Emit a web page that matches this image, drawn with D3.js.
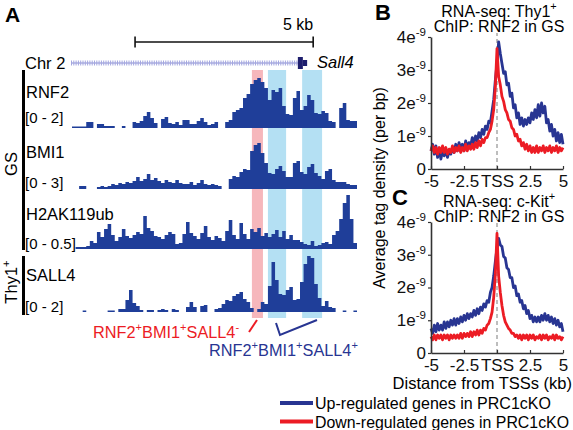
<!DOCTYPE html>
<html><head><meta charset="utf-8">
<script src="https://cdn.jsdelivr.net/npm/d3@7"></script>
<style>body{margin:0;background:#fff}</style>
</head><body><svg id="c" width="573" height="430"></svg>
<script>
// ---------------- DATA ----------------
const binKb = 0.1;
const rnf2 = [0.06,0.06,0.06,0.06,0.24,0.24,null,0.16,0.16,0.08,0.08,0.08,null,null,0.08,null,null,0.24,0.2,0.28,
  0.48,0.64,0.4,0.2,null,0.36,0.44,0.2,0.16,0.24,0.12,0.32,0.32,0.16,0.16,0.28,0.4,0.24,0.12,0.16,
  0.24,null,null,0.24,0.32,0.64,0.72,0.8,1.2,1.36,1.76,1.92,2.0,1.84,1.6,1.12,1.52,1.44,1.6,0.88,
  0.56,0.52,1.2,1.48,0.72,0.88,1.32,1.12,0.6,0.56,0.68,0.6,0.28,0.24,null,0.8,1.0,0.32,0.28,0.28];
const bmi1 = [null,null,0.18,0.18,null,null,null,0.12,0.18,0.12,0.18,0.3,0.24,0.36,0.3,0.42,0.36,0.48,0.72,0.48,
  0.6,0.9,0.54,0.66,0.48,0.36,0.54,0.42,0.36,0.54,0.36,0.3,0.3,0.42,0.24,0.36,0.54,0.3,0.24,0.3,
  0.24,0.18,null,null,0.6,0.78,0.72,1.02,1.2,1.14,2.28,2.64,2.76,2.16,1.56,0.96,0.9,1.2,1.38,1.08,
  0.72,0.72,1.56,1.68,1.02,0.9,1.32,1.5,0.96,0.78,0.6,1.08,1.2,0.54,0.42,0.42,0.42,0.3,0.24,0.24];
const h2ak119ub = [null,0.02,0.02,0.02,0.03,0.08,0.06,0.17,0.12,0.2,0.25,0.14,0.08,0.12,0.2,0.13,0.11,0.14,0.17,0.15,
  0.33,0.21,0.18,0.13,0.12,0.1,0.14,0.17,0.15,0.05,0.06,0.15,0.27,0.16,0.13,0.1,0.16,0.23,0.12,0.09,
  0.13,0.11,0.08,0.18,0.29,0.14,0.1,0.26,0.15,0.1,0.2,0.17,0.21,0.13,0.16,0.12,0.15,0.19,0.12,0.18,
  0.1,0.14,0.09,0.09,0.07,0.05,0.04,0.08,0.03,0.04,0.06,0.07,0.05,0.14,0.18,0.3,0.46,0.54,0.3,0.06];
const sall4 = [null,null,null,0.06,null,null,null,null,null,null,0.06,0.06,null,0.12,0.12,0.48,0.88,0.36,0.24,0.08,
  null,0.08,0.08,null,0.08,0.12,0.08,null,0.12,0.08,null,null,0.2,0.4,0.2,null,0.24,0.28,null,null,
  0.12,0.16,0.32,0.48,0.44,0.64,0.72,0.8,0.52,0.4,0.16,null,0.12,0.4,0.32,1.04,2.0,1.28,0.72,0.68,
  0.88,1.0,0.48,0.52,1.2,1.92,2.24,2.16,1.12,0.56,0.24,0.44,0.2,0.16,null,null,0.06,null,null,0.06];
const trackNames = ["RNF2", "BMI1", "H2AK119ub", "SALL4"];
const trackRangeLabels = ["[0 - 2]", "[0 - 3]", "[0 - 0.5]", "[0 - 2]"];
const trackMax = [2, 3, 0.5, 2];
const pinkRegionsKb = [[5.05, 5.36]];
const blueRegionsKb = [[5.5, 6.01], [6.46, 7.02]];
const geneSpanKb = [0, 6.34];
const geneExonKb = [6.34, 6.6];
const scaleBarKb = [1.77, 6.77];

// Panels B / C: average tag density (units of 1e-9 per bp)
const profileX = d3.range(-5, 5.0001, 0.125);
const bUp = [0.55,0.75,0.45,0.70,0.35,0.60,0.30,0.55,0.40,0.60,0.35,0.55,0.45,0.65,0.50,0.75,0.55,0.80,0.60,0.75,
  0.55,0.85,0.65,0.80,0.70,0.95,0.80,1.00,0.85,1.10,0.95,1.20,1.05,1.30,1.20,1.45,1.40,1.75,2.10,2.70,
  3.20,3.85,3.50,3.20,2.90,2.95,2.55,2.60,2.20,2.30,1.85,1.95,1.55,1.70,1.35,1.55,1.30,1.50,1.35,1.55,
  1.40,1.70,1.50,1.80,1.55,1.95,1.60,2.00,1.70,1.90,1.40,1.50,1.15,1.35,1.00,1.20,0.85,1.10,0.80,1.05,0.75];
const bDown = [0.55,0.70,0.50,0.65,0.45,0.65,0.50,0.70,0.50,0.65,0.45,0.60,0.50,0.70,0.50,0.65,0.55,0.70,0.50,0.65,
  0.55,0.75,0.55,0.70,0.60,0.75,0.60,0.80,0.65,0.85,0.70,0.90,0.80,0.95,0.95,1.10,1.20,1.45,1.80,2.50,
  3.65,2.80,2.55,2.20,2.05,1.80,1.70,1.50,1.45,1.25,1.20,1.00,1.05,0.85,0.90,0.70,0.80,0.60,0.75,0.55,
  0.70,0.50,0.65,0.50,0.70,0.50,0.65,0.55,0.70,0.50,0.65,0.55,0.70,0.50,0.65,0.55,0.70,0.50,0.65,0.55,0.65];
const cUp = [0.75,0.60,0.85,0.65,0.90,0.70,0.85,0.70,0.95,0.75,0.95,0.80,1.00,0.85,1.05,0.85,1.05,0.90,1.10,0.95,
  1.15,1.00,1.20,1.05,1.20,1.10,1.30,1.15,1.35,1.20,1.40,1.30,1.50,1.40,1.60,1.55,1.85,2.00,2.35,2.80,
  3.20,3.50,3.30,3.25,2.95,2.90,2.60,2.55,2.30,2.30,2.00,2.05,1.75,1.80,1.55,1.60,1.35,1.45,1.20,1.30,
  1.05,1.15,0.95,1.10,0.95,1.10,0.95,1.15,1.00,1.20,1.00,1.15,0.95,1.10,0.90,1.05,0.85,1.00,0.80,0.90,0.65];
const cDown = [0.50,0.40,0.55,0.40,0.55,0.45,0.55,0.40,0.55,0.45,0.55,0.40,0.55,0.45,0.55,0.45,0.55,0.45,0.60,0.45,
  0.60,0.50,0.60,0.50,0.65,0.50,0.65,0.55,0.70,0.55,0.70,0.60,0.75,0.70,0.85,0.90,1.05,1.25,1.70,2.40,
  3.65,2.35,1.85,1.45,1.15,0.95,0.85,0.75,0.70,0.60,0.60,0.50,0.55,0.45,0.55,0.40,0.55,0.45,0.55,0.40,
  0.55,0.45,0.55,0.40,0.50,0.45,0.55,0.40,0.55,0.45,0.55,0.40,0.50,0.45,0.55,0.40,0.55,0.45,0.50,0.40,0.50];
const xTicks = [-5, -2.5, 0, 2.5, 5];
const xTickLabels = ["-5", "-2.5", "TSS", "2.5", "5"];
const yTicks = [0, 1, 2, 3, 4];
const yTickMain = ["0", "1e", "2e", "3e", "4e"];
const yTickSup = ["", "-9", "-9", "-9", "-9"];
const legendLabels = ["Up-regulated genes in PRC1cKO", "Down-regulated genes in PRC1cKO"];

// ---------------- DRAW ----------------
const FONT = '"Liberation Sans", Arial, Helvetica, sans-serif';
const TRACK = "#1f3e99", BLUE = "#283592", RED = "#ec1c24";
const svg = d3.select("#c").style("font-family", FONT);
svg.append("rect").attr("width", 573).attr("height", 430).attr("fill", "#fff");

function rich(sel, parts, fs) {
  let shifted = false;
  parts.forEach(([t, sup]) => {
    const ts = sel.append("tspan").text(t);
    if (sup && !shifted) { ts.attr("dy", -fs * 0.42).attr("font-size", fs * 0.68); shifted = true; }
    else if (sup) { ts.attr("font-size", fs * 0.68); }
    else if (!sup && shifted) { ts.attr("dy", fs * 0.42); shifted = false; }
  });
  return sel;
}

// Panel A
const xg = d3.scaleLinear().domain([0, 8]).range([72, 357]);
svg.append("text").attr("x", 5).attr("y", 22).attr("font-size", 21).attr("font-weight", "bold").text("A");

const sb = svg.append("g").attr("stroke", "#111").attr("stroke-width", 1.6);
sb.append("line").attr("x1", xg(scaleBarKb[0])).attr("x2", xg(scaleBarKb[1])).attr("y1", 42).attr("y2", 42);
scaleBarKb.forEach(k => sb.append("line").attr("x1", xg(k)).attr("x2", xg(k)).attr("y1", 36.5).attr("y2", 47.5));
svg.append("text").attr("x", xg(scaleBarKb[1])).attr("y", 30).attr("text-anchor", "end").attr("font-size", 16).text("5 kb");

svg.append("text").attr("x", 25).attr("y", 69).attr("font-size", 16.5).text("Chr 2");
svg.append("line").attr("x1", xg(geneSpanKb[0]) - 1).attr("x2", xg(geneSpanKb[1])).attr("y1", 63).attr("y2", 63)
  .attr("stroke", "#8084cf").attr("stroke-width", 1);
svg.append("line").attr("x1", xg(geneSpanKb[0]) - 1).attr("x2", xg(geneSpanKb[1])).attr("y1", 63).attr("y2", 63)
  .attr("stroke", "#a4a7e0").attr("stroke-width", 5).attr("stroke-dasharray", "1 1.3");
svg.append("rect").attr("x", xg(geneExonKb[0])).attr("y", 57).attr("width", 5).attr("height", 12).attr("fill", "#1f1f6e");
svg.append("rect").attr("x", xg(geneExonKb[0]) + 5).attr("y", 60).attr("width", xg(geneExonKb[1]) - xg(geneExonKb[0]) - 5).attr("height", 6).attr("fill", "#1f1f6e");
svg.append("text").attr("x", 317).attr("y", 68).attr("font-size", 16.5).attr("font-style", "italic").text("Sall4");

pinkRegionsKb.forEach(r => svg.append("rect").attr("x", xg(r[0])).attr("width", xg(r[1]) - xg(r[0]))
  .attr("y", 70).attr("height", 248).attr("fill", "#f6b7bc"));
blueRegionsKb.forEach(r => svg.append("rect").attr("x", xg(r[0])).attr("width", xg(r[1]) - xg(r[0]))
  .attr("y", 70).attr("height", 248).attr("fill", "#b4e0f3"));

const trackValues = [rnf2, bmi1, h2ak119ub, sall4];
const baselines = [128, 189, 249, 312];
const nameY = [98, 158, 220, 281];
const rangeY = [123, 188, 249, 312];
trackValues.forEach((vals, ti) => {
  const base = baselines[ti];
  const y = d3.scaleLinear().domain([0, trackMax[ti]]).range([base, base - 50]);
  const pts = [];
  vals.forEach((v, i) => {
    if (v == null) { pts.push({ k: i * binKb, v: null }); return; }
    pts.push({ k: i * binKb, v });
    if (i === vals.length - 1 || vals[i + 1] == null) pts.push({ k: (i + 1) * binKb, v });
  });
  const area = d3.area().defined(d => d.v != null).curve(d3.curveStepAfter)
    .x(d => xg(d.k)).y0(base).y1(d => y(d.v));
  svg.append("path").attr("d", area(pts)).attr("fill", TRACK);
  svg.append("text").attr("x", 26).attr("y", nameY[ti]).attr("font-size", 16.5).text(trackNames[ti]);
  svg.append("text").attr("x", 25).attr("y", rangeY[ti]).attr("font-size", 15).text(trackRangeLabels[ti]);
});

svg.append("line").attr("x1", 23.5).attr("x2", 23.5).attr("y1", 70).attr("y2", 250).attr("stroke", "#000").attr("stroke-width", 3);
svg.append("line").attr("x1", 23.5).attr("x2", 23.5).attr("y1", 256).attr("y2", 315).attr("stroke", "#000").attr("stroke-width", 3);
svg.append("text").attr("transform", "translate(17,164) rotate(-90)").attr("text-anchor", "middle").attr("font-size", 16.5).text("GS");
rich(svg.append("text").attr("transform", "translate(17,282) rotate(-90)").attr("text-anchor", "middle").attr("font-size", 16.5),
  [["Thy1", false], ["+", true]], 16.5);

rich(svg.append("text").attr("x", 93).attr("y", 338).attr("font-size", 16.3).attr("fill", RED),
  [["RNF2", false], ["+", true], ["BMI1", false], ["+", true], ["SALL4", false], ["-", true]], 16.3);
svg.append("line").attr("x1", 249).attr("y1", 332).attr("x2", 257).attr("y2", 320).attr("stroke", RED).attr("stroke-width", 2);
rich(svg.append("text").attr("x", 209).attr("y", 356).attr("font-size", 16.3).attr("fill", BLUE),
  [["RNF2", false], ["+", true], ["BMI1", false], ["+", true], ["SALL4", false], ["+", true]], 16.3);
svg.append("path").attr("d", "M276,323 L280,335 L317,320").attr("fill", "none").attr("stroke", BLUE).attr("stroke-width", 2);

function profilePanel(letter, lx, ly, title1, titleY, yBottom, yTop, up, down) {
  const x = d3.scaleLinear().domain([-5, 5]).range([431, 563]);
  const y = d3.scaleLinear().domain([0, 4]).range([yBottom, yTop]);
  svg.append("text").attr("x", lx).attr("y", ly).attr("font-size", 22).attr("font-weight", "bold").text(letter);
  rich(svg.append("text").attr("x", 499).attr("y", titleY).attr("text-anchor", "middle").attr("font-size", 16),
    [[title1, false], ["+", true]], 16);
  svg.append("text").attr("x", 499).attr("y", titleY + 15).attr("text-anchor", "middle").attr("font-size", 16).text("ChIP: RNF2 in GS");
  svg.append("line").attr("x1", x(0)).attr("x2", x(0)).attr("y1", y(0)).attr("y2", y(4.12))
    .attr("stroke", "#bdbdbd").attr("stroke-width", 2).attr("stroke-dasharray", "4 3");
  const line = d3.line().x((d, i) => x(profileX[i])).y(d => y(d));
  svg.append("path").attr("d", line(up)).attr("fill", "none").attr("stroke", BLUE).attr("stroke-width", 2.8).attr("stroke-linejoin", "round");
  svg.append("path").attr("d", line(down)).attr("fill", "none").attr("stroke", RED).attr("stroke-width", 2.8).attr("stroke-linejoin", "round");
  const gx = svg.append("g").attr("transform", `translate(0,${yBottom})`)
    .call(d3.axisBottom(x).tickValues(xTicks).tickFormat((d, i) => xTickLabels[i]).tickSize(-3).tickSizeOuter(0).tickPadding(6));
  const gy = svg.append("g").attr("transform", "translate(431,0)")
    .call(d3.axisLeft(y).tickValues(yTicks).tickFormat(() => "").tickSize(3).tickSizeOuter(0).tickPadding(2));
  [gx, gy].forEach(g => {
    g.attr("font-family", FONT).attr("font-size", 17);
    g.select(".domain").attr("stroke", "#333").attr("stroke-width", 1.6);
    g.selectAll(".tick line").attr("stroke", "#333").attr("stroke-width", 1.2);
    g.selectAll(".tick text").attr("fill", "#111");
  });
  gy.selectAll(".tick text").each(function (d, i) {
    const t = d3.select(this);
    const parts = [[yTickMain[i], false]];
    if (yTickSup[i]) parts.push([yTickSup[i], true]);
    rich(t, parts, 17);
  });
}
profilePanel("B", 375, 20, "RNA-seq: Thy1", 17, 169, 37, bUp, bDown);
profilePanel("C", 392, 205, "RNA-seq: c-Kit", 207, 353, 222, cUp, cDown);

svg.append("text").attr("transform", "translate(385,188) rotate(-90)").attr("text-anchor", "middle")
  .attr("font-size", 16).text("Average tag density (per bp)");
svg.append("text").attr("x", 572).attr("y", 389).attr("text-anchor", "end").attr("font-size", 16.5).text("Distance from TSSs (kb)");

const legendWidths = [236, 254];
[BLUE, RED].forEach((c, i) => {
  const yy = 403 + i * 18.5;
  svg.append("line").attr("x1", 280).attr("x2", 313).attr("y1", yy).attr("y2", yy).attr("stroke", c).attr("stroke-width", 4);
  svg.append("text").attr("x", 315).attr("y", yy + 6).attr("font-size", 16.2)
    .attr("textLength", legendWidths[i]).attr("lengthAdjust", "spacingAndGlyphs").text(legendLabels[i]);
});
</script></body></html>
